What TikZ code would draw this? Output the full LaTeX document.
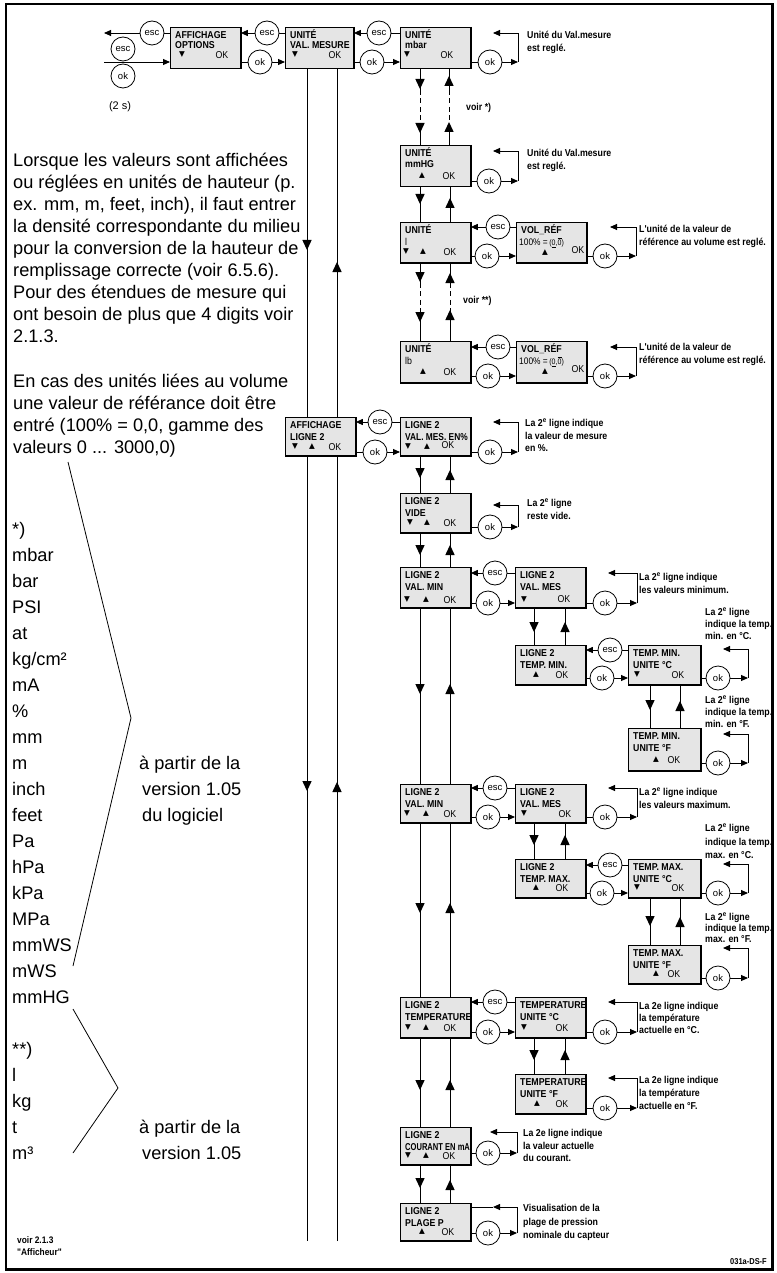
\documentclass[tikz,border=0pt]{standalone}
\usepackage{fontspec}
\usepackage{graphicx}
\setmainfont{Liberation Sans}
\newfontfamily\nar[FakeStretch=0.88]{Liberation Sans}
\newfontfamily\symf{DejaVu Sans}
\usetikzlibrary{arrows.meta,calc}
\definecolor{boxgray}{gray}{0.9}
\newcommand\lines[2][12.5]{\vtop{\baselineskip=#1pt\halign{##\hfil\cr#2\crcr}}}
\def\lyA{11.5}\def\lyB{23}
\tikzset{
  ln/.style={line width=0.9pt},
  arr/.style={ln,-{Triangle[length=7pt,width=6pt]}},
  dbox/.style={draw,fill=boxgray,line width=0.8pt,inner sep=0,anchor=north west},
  btn/.style={draw,circle,line width=0.8pt,fill=white,minimum size=24pt,inner sep=0,font=\fontsize{9.5}{9.5}\selectfont},
  dl/.style={anchor=base west,inner sep=0,font=\nar\bfseries\fontsize{10}{10}\selectfont},
  dr/.style={anchor=base west,inner sep=0,font=\nar\fontsize{9.5}{9.5}\selectfont},
  okt/.style={anchor=base,inner sep=0,font=\nar\fontsize{10}{10}\selectfont},
  tri/.style={inner sep=0,font=\symf\fontsize{7.5}{7.5}\selectfont},
  note/.style={anchor=base west,inner sep=0,font=\nar\bfseries\fontsize{10}{12.5}\selectfont},
  big/.style={anchor=base west,inner sep=0,font=\fontsize{18.2}{22}\selectfont},
}
\newcommand\disp[7]{%
  \def\bx{#2}\def\by{#3}%
  \node[dbox,minimum width=#4pt,minimum height=#5pt] (#1) at (#2,#3) {};
  \draw[line width=1.4pt] (#1.north east) -- (#1.south east) -- (#1.south west);
  \node[dl] at (#2+5,#3+\lyA) {#6};
  \node[dl] at (#2+5,#3+\lyB) {#7};}
\newcommand\kd[2][31]{\node[tri] at (\bx+#2,\by+#1) {▼};}
\newcommand\ku[2][31]{\node[tri] at (\bx+#2,\by+#1) {▲};}
\newcommand\ko[2][34.5]{\node[okt] at (\bx+#2,\by+#1) {OK};}
\newcommand\mdn[2]{\fill (#1-4.7,#2-5) -- (#1+4.7,#2-5) -- (#1,#2+5) -- cycle;}
\newcommand\mup[2]{\fill (#1-4.7,#2+5) -- (#1+4.7,#2+5) -- (#1,#2-5) -- cycle;}
\newcommand\vlink[3]{\draw[ln] ($(#1.south west)+(#3,0)$) -- ($(#2.north west)+(#3,0)$);}
\newcommand\dlink[4]{%
  \draw[ln] ($(#1.south west)+(#3,0)$) -- ($(#1.south west)+(#3,#4)$);
  \draw[ln,dash pattern=on 5pt off 3.5pt] ($(#1.south west)+(#3,#4)$) -- ($(#2.north west)+(#3,-#4)$);
  \draw[ln] ($(#2.north west)+(#3,-#4)$) -- ($(#2.north west)+(#3,0)$);}
\newcommand\escc[3]{%
  \draw[ln] (#1 -| #3.west) -- (#1.east);
  \draw[arr] (#1.west) -- (#1 -| #2.east);}
\newcommand\okc[3]{%
  \draw[ln] (#1 -| #2.east) -- (#1.west);
  \draw[arr] (#1.east) -- (#1 -| #3.west);}
\newcommand\loopc[6]{%
  \draw[ln] (#1 -| #2.east) -- (#1.west);
  \coordinate (#1a) at (#3,#4);
  \coordinate (#1b) at (#6,#5);
  \draw[arr] (#1.east) -- (#1a);
  \draw[arr] (#1a) |- (#1b);}
\newcommand\volref{100\% =\,{\fontsize{8}{8}\selectfont($\underline{\mbox{0}}$,$\overline{\mbox{0}}$)}}
\newcommand\li[2]{\node[big] at (12,#1+6) {#2};}
\begin{document}
\begin{tikzpicture}[x=1pt,y=-1pt]
\useasboundingbox (0,0) rectangle (776,1273);
\draw[line width=2.5pt] (6,3.8) rectangle (772.3,1269.5);

% ---------- top row
\def\lyB{22}
\disp{aopt}{170}{27}{70}{41}{AFFICHAGE}{OPTIONS}\kd[28]{12}\ko[31.5]{52}
\disp{uvm}{285}{27}{68}{41}{UNITÉ}{VAL. MESURE}\kd[28]{10}\ko[31.5]{50}
\disp{umbar}{400}{27}{70}{41}{UNITÉ}{mbar}\kd[28]{7}\ko[31.5]{47}
\def\lyB{23}
\node[btn] (e0) at (152,33) {esc};
\node[btn] (e00) at (123,49) {esc};
\node[btn] (o00) at (123,76) {ok};
\node[font=\fontsize{11}{11}\selectfont] (twos) at (120,107) {(2 s)};
\node[btn] (ea) at (267,33) {esc};
\node[btn] (oa) at (260,62) {ok};
\node[btn] (eb) at (379,33) {esc};
\node[btn] (ob) at (372,62) {ok};
\node[btn] (om) at (490,62) {ok};
\draw[ln] (e0 -| aopt.west) -- (e0.east);
\coordinate (outl) at (104,33);
\draw[arr] (e0.west) -- (outl);
\coordinate (inl) at (104,62);
\draw[arr] (inl) -- (inl -| aopt.west);
\escc{ea}{aopt}{uvm}\okc{oa}{aopt}{uvm}
\escc{eb}{uvm}{umbar}\okc{ob}{uvm}{umbar}
\loopc{om}{umbar}{518}{62}{33}{493}
\node[note] at (527,38.6) {\lines{Unité du Val.mesure\cr est reglé.}};
\node[dl] at (466,110.6) {voir *)};

% ---------- mmHG
\disp{ummhg}{400}{145}{70}{41}{UNITÉ}{mmHG}\ku{22}\ko{49}
\dlink{umbar}{ummhg}{20}{21}
\dlink{umbar}{ummhg}{49}{21}
\mdn{420}{84}\mdn{420}{128}
\mup{449}{81}\mup{449}{127}
\node[btn] (ommhg) at (489,181) {ok};
\loopc{ommhg}{ummhg}{518}{181}{151}{493}
\node[note] at (527,156.6) {\lines{Unité du Val.mesure\cr est reglé.}};

% ---------- l / lb
\disp{ul}{400}{222}{70}{40}{UNITÉ}{\mdseries l}\kd[30]{6}\ku[30]{23}\ko[33.5]{50}
\vlink{ummhg}{ul}{20}\vlink{ummhg}{ul}{50}
\mdn{420}{199}\mup{450}{203}
\disp{vol1}{516}{222}{70}{40}{VOL\_RÉF}{}
\node[dr] at (\bx+3,\by+23.5) {\volref};
\ku[31]{29}\ko[31]{62}
\node[btn] (el) at (498,227) {esc};
\node[btn] (ol) at (487,256) {ok};
\escc{el}{ul}{vol1}\okc{ol}{ul}{vol1}
\node[btn] (ov1) at (605,256) {ok};
\loopc{ov1}{vol1}{636}{256}{227}{610}
\node[note] at (639,232.6) {\lines{L'unité de la valeur de\cr référence au volume est reglé.}};

\disp{ulb}{400}{341}{70}{41}{UNITÉ}{\mdseries lb}\ku{23}\ko{50}
\dlink{ul}{ulb}{20}{20}
\dlink{ul}{ulb}{50}{20}
\mdn{420}{277}\mdn{420}{317}
\mup{450}{278}\mup{450}{315}
\node[dl] at (463,303.6) {voir **)};
\disp{vol2}{516}{341}{70}{41}{VOL\_RÉF}{}
\node[dr] at (\bx+3,\by+23.5) {\volref};
\ku[31]{29}\ko[31]{62}
\node[btn] (elb) at (498,347) {esc};
\node[btn] (olb) at (488,376) {ok};
\escc{elb}{ulb}{vol2}\okc{olb}{ulb}{vol2}
\node[btn] (ov2) at (605,376) {ok};
\loopc{ov2}{vol2}{636}{376}{347}{610}
\node[note] at (639,350.6) {\lines{L'unité de la valeur de\cr référence au volume est reglé.}};

% ---------- affichage ligne 2
\disp{aff2}{285}{417}{70}{38}{AFFICHAGE}{LIGNE 2}\kd[30]{10}\ku[30]{27}\ko[33.5]{50}
\vlink{uvm}{aff2}{22}\vlink{uvm}{aff2}{52}
\mdn{307}{245}\mup{337}{267}
\coordinate (endA) at (307,1241);
\coordinate (endB) at (337,1241);
\draw[ln] ($(aff2.south west)+(22,0)$) -- (endA);
\draw[ln] (endB) -- ($(aff2.south west)+(52,0)$);
\mdn{307}{786}\mup{337}{787}

\disp{vmp}{400}{417}{70}{38}{LIGNE 2}{\scalebox{0.95}[1]{VAL. MES. EN\%}}\kd[30]{8}\ku[30]{27}\ko[31.5]{48}
\node[btn] (eaf) at (380,422) {esc};
\node[btn] (oaf) at (375,452) {ok};
\escc{eaf}{aff2}{vmp}\okc{oaf}{aff2}{vmp}
\node[btn] (ovmp) at (490,452) {ok};
\loopc{ovmp}{vmp}{518}{452}{422}{493}
\node[note] at (525,426.6) {\lines{La 2\textsuperscript{e} ligne indique\cr la valeur de mesure\cr en \%.}};

\disp{vide}{400}{493}{70}{39}{LIGNE 2}{VIDE}\kd[30]{10}\ku[30]{27}\ko[33.5]{50}
\vlink{vmp}{vide}{20}\vlink{vmp}{vide}{50}
\mdn{420}{473}\mup{450}{475}
\node[btn] (ovide) at (490,527) {ok};
\loopc{ovide}{vide}{518}{527}{505}{493}
\node[note] at (527,506.6) {\lines{La 2\textsuperscript{e} ligne\cr reste vide.}};

% ---------- val min
\disp{vmin1}{400}{567}{70}{40}{LIGNE 2}{VAL. MIN}\kd[33]{7}\ku[33]{26}\ko[36]{50}
\vlink{vide}{vmin1}{20}\vlink{vide}{vmin1}{50}
\mdn{420}{550}\mup{450}{550}
\disp{vmes1}{515}{567}{70}{40}{LIGNE 2}{VAL. MES}\kd[33]{9}\ko[35.5]{49}
\node[btn] (evm1) at (495,573) {esc};
\node[btn] (ovm1) at (488,603) {ok};
\escc{evm1}{vmin1}{vmes1}\okc{ovm1}{vmin1}{vmes1}
\node[btn] (ovs1) at (605,603) {ok};
\loopc{ovs1}{vmes1}{637}{603}{573}{608}
\node[note] at (639,580.6) {\lines{La 2\textsuperscript{e} ligne indique\cr les valeurs minimum.}};

\disp{tmin}{515}{645}{70}{39}{LIGNE 2}{TEMP. MIN.}\ku[30]{21}\ko[33.5]{47}
\vlink{vmes1}{tmin}{19}\vlink{vmes1}{tmin}{50}
\mdn{534}{627}\mup{565}{627}
\disp{tminc}{628}{645}{72}{39}{TEMP. MIN.}{UNITE °C}\kd[30]{9}\ko[33.5]{50}
\node[btn] (etm) at (610,650) {esc};
\node[btn] (otm) at (602,678) {ok};
\escc{etm}{tmin}{tminc}\okc{otm}{tmin}{tminc}
\node[btn] (otmc) at (718,678) {ok};
\loopc{otmc}{tminc}{748}{678}{649}{723}
\node[note] at (705,615.6) {\lines[12]{La 2\textsuperscript{e} ligne\cr indique la temp.\cr min. en °C.}};

\disp{tminf}{628}{728}{72}{42}{TEMP. MIN.}{UNITE °F}\ku[32]{28}\ko[35.5]{46}
\vlink{tminc}{tminf}{22}\vlink{tminc}{tminf}{52}
\mdn{650}{705}\mup{680}{706}
\node[note] at (705,703.6) {\lines[12]{La 2\textsuperscript{e} ligne\cr indique la temp.\cr min. en °F.}};
\node[btn] (otmf) at (718,763) {ok};
\loopc{otmf}{tminf}{748}{763}{734}{723}

% ---------- val max
\disp{vmin2}{400}{784}{70}{38}{LIGNE 2}{VAL. MIN}\kd[30]{7}\ku[30]{26}\ko[33.5]{50}
\vlink{vmin1}{vmin2}{20}\vlink{vmin1}{vmin2}{50}
\mdn{420}{689}\mup{450}{689}
\disp{vmes2}{515}{784}{70}{38}{LIGNE 2}{VAL. MES}\kd[30]{9}\ko[33.5]{50}
\node[btn] (evm2) at (495,788) {esc};
\node[btn] (ovm2) at (488,817) {ok};
\escc{evm2}{vmin2}{vmes2}\okc{ovm2}{vmin2}{vmes2}
\node[btn] (ovs2) at (605,817) {ok};
\loopc{ovs2}{vmes2}{637}{817}{788}{608}
\node[note] at (639,795.6) {\lines{La 2\textsuperscript{e} ligne indique\cr les valeurs maximum.}};

\disp{tmax}{515}{859}{70}{38}{LIGNE 2}{TEMP. MAX.}\ku[29]{21}\ko[32.5]{47}
\vlink{vmes2}{tmax}{19}\vlink{vmes2}{tmax}{50}
\mdn{534}{840}\mup{565}{840}
\disp{tmaxc}{628}{859}{72}{38}{TEMP. MAX.}{UNITE °C}\kd[29]{9}\ko[32.5]{50}
\node[btn] (etx) at (610,865) {esc};
\node[btn] (otx) at (602,893) {ok};
\escc{etx}{tmax}{tmaxc}\okc{otx}{tmax}{tmaxc}
\node[btn] (otxc) at (718,893) {ok};
\loopc{otxc}{tmaxc}{748}{893}{864}{723}
\node[note] at (705,831.6) {\lines[13.5]{La 2\textsuperscript{e} ligne\cr indique la temp.\cr max. en °C.}};

\disp{tmaxf}{628}{945}{72}{38}{TEMP. MAX.}{UNITE °F}\ku[29]{28}\ko[32.5]{46}
\vlink{tmaxc}{tmaxf}{22}\vlink{tmaxc}{tmaxf}{52}
\mdn{650}{921}\mup{680}{922}
\node[note] at (705,920.6) {\lines[11]{La 2\textsuperscript{e} ligne\cr indique la temp.\cr max. en °F.}};
\node[btn] (otxf) at (718,978) {ok};
\loopc{otxf}{tmaxf}{748}{978}{948}{723}

% ---------- temperature
\disp{temp}{400}{997}{70}{40}{LIGNE 2}{TEMPERATURE}\kd[31]{8}\ku[31]{26}\ko[34.5]{50}
\vlink{vmin2}{temp}{20}\vlink{vmin2}{temp}{50}
\mdn{420}{908}\mup{450}{908}
\disp{tempc}{515}{997}{70}{40}{TEMPERATURE}{UNITE °C}\kd[31]{9}\ko[34.5]{47}
\node[btn] (etp) at (495,1002) {esc};
\node[btn] (otp) at (488,1032) {ok};
\escc{etp}{temp}{tempc}\okc{otp}{temp}{tempc}
\node[btn] (otpc) at (605,1032) {ok};
\loopc{otpc}{tempc}{637}{1032}{1002}{608}
\node[note] at (639,1009.6) {\lines[12]{La 2e ligne indique\cr la température\cr actuelle en °C.}};

\disp{tempf}{515}{1074}{70}{39}{TEMPERATURE}{UNITE °F}\ku[30]{22}\ko[33.5]{47}
\vlink{tempc}{tempf}{19}\vlink{tempc}{tempf}{50}
\mdn{534}{1055}\mup{565}{1055}
\node[btn] (otpf) at (605,1108) {ok};
\loopc{otpf}{tempf}{637}{1108}{1078}{608}
\node[note] at (639,1083.6) {\lines[13]{La 2e ligne indique\cr la température\cr actuelle en °F.}};

% ---------- courant
\disp{cour}{400}{1127}{70}{37}{LIGNE 2}{\scalebox{0.86}[1]{COURANT EN mA}}\kd[29]{8}\ku[29]{26}\ko[32.5]{49}
\vlink{temp}{cour}{20}\vlink{temp}{cour}{50}
\mdn{420}{1085}\mup{450}{1085}
\node[btn] (ocr) at (488,1153) {ok};
\loopc{ocr}{cour}{517}{1153}{1132}{490}
\node[note] at (523,1136.6) {\lines{La 2e ligne indique\cr la valeur actuelle\cr du courant.}};

% ---------- plage P
\disp{plage}{400}{1203}{70}{37}{LIGNE 2}{PLAGE P}\ku[29]{22}\ko[32.5]{48}
\vlink{cour}{plage}{20}\vlink{cour}{plage}{50}
\mdn{420}{1183}\mup{450}{1185}
\node[btn] (opl) at (488,1233) {ok};
\draw[ln] (opl -| plage.east) -- (opl.west);
\coordinate (pla) at (517,1233);
\coordinate (plb) at (493,1207);
\draw[arr] (opl.east) -- (pla);
\draw[arr] (pla) |- (plb);
\draw[ln] (plb) -- (plb -| plage.east);
\node[note] at (523,1211.6) {\lines[13.5]{Visualisation de la\cr plage de pression\cr nominale du capteur}};

% ---------- left texts
\node[big] (p1) at (13,167) {\lines[22]{Lorsque les valeurs sont affichées\cr ou réglées en unités de hauteur (p.\cr ex. mm, m, feet, inch), il faut entrer\cr la densité correspondante du milieu\cr pour la conversion de la hauteur de\cr remplissage correcte (voir 6.5.6).\cr Pour des étendues de mesure qui\cr ont besoin de plus que 4 digits voir\cr 2.1.3.}};
\node[big] (p2) at (13,387) {\lines[22]{En cas des unités liées au volume\cr une valeur de référance doit être\cr entré (100\% = 0,0, gamme des\cr valeurs 0 ... 3000,0)}};
\li{529}{*)}\li{555}{mbar}\li{581}{bar}\li{607}{PSI}\li{633}{at}
\li{659}{kg/cm²}\li{685}{mA}\li{711}{\%}\li{737}{mm}\li{763}{m}
\li{789}{inch}\li{815}{feet}\li{841}{Pa}\li{867}{hPa}\li{893}{kPa}
\li{919}{MPa}\li{945}{mmWS}\li{971}{mWS}\li{997}{mmHG}
\li{1049}{**)}\li{1075}{l}\li{1101}{kg}\li{1127}{t}\li{1153}{m³}
\node[big] (ap1) at (139,769) {à partir de la};
\node[big] (ve1) at (142,795) {version 1.05};
\node[big] (dl1) at (142,821) {du logiciel};
\node[big] (ap2) at (139,1133) {à partir de la};
\node[big] (ve2) at (142,1159) {version 1.05};
\draw[line width=0.8pt] (68,462) -- (131,718) -- (73,966);
\draw[line width=0.8pt] (73,1009) -- (118,1088) -- (73,1153);
\node[note,font=\nar\bfseries\fontsize{9.5}{11.5}\selectfont] (voir) at (17,1243.5) {\lines[11.5]{voir 2.1.3\cr "Afficheur"}};
\node[anchor=base east,inner sep=0,font=\nar\bfseries\fontsize{8.5}{8.5}\selectfont] (ref) at (767,1264) {031a-DS-F};
\end{tikzpicture}
\end{document}
